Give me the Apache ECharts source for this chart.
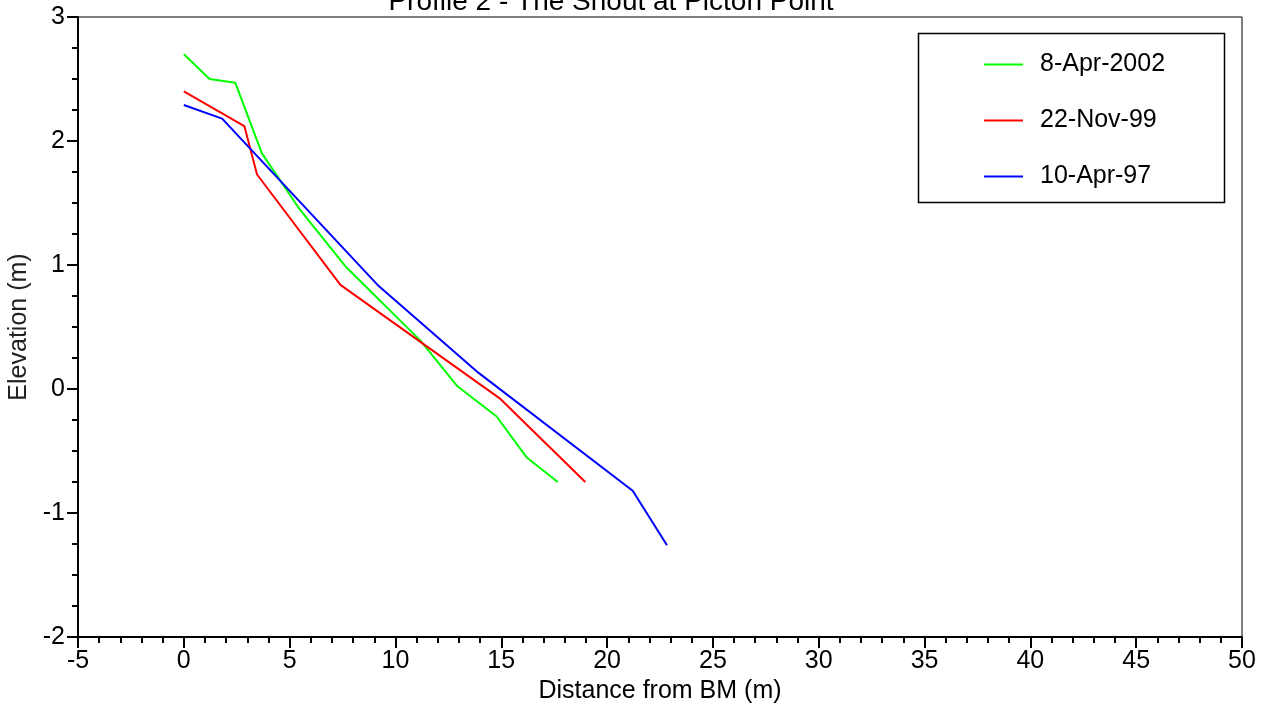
<!DOCTYPE html>
<html>
<head>
<meta charset="utf-8">
<script src="https://cdn.jsdelivr.net/npm/echarts@6/dist/echarts.min.js"></script>
<style>
html,body{margin:0;padding:0;background:#fff;}
#c{width:1275px;height:719px;}
</style>
</head>
<body>
<div id="c"></div>
<script>
var seriesNames = ['8-Apr-2002', '22-Nov-99', '10-Apr-97'];
var seriesColors = ['#00ff00', '#ff0000', '#0000ff'];
var apr2002 = [[0, 2.70], [1.22, 2.50], [2.43, 2.47], [3.69, 1.90], [5.47, 1.45], [7.63, 0.99], [11.18, 0.39], [12.94, 0.02], [14.77, -0.22], [16.19, -0.55], [17.67, -0.75]];
var nov99 = [[0, 2.40], [2.86, 2.12], [3.46, 1.73], [7.40, 0.84], [14.96, -0.08], [18.97, -0.75]];
var apr97 = [[0, 2.29], [1.81, 2.18], [9.21, 0.83], [13.93, 0.13], [21.21, -0.82], [22.83, -1.26]];
var seriesData = [apr2002, nov99, apr97];
var titleText = 'Profile 2 - The Shout at Picton Point';
var xName = 'Distance from BM (m)';
var yName = 'Elevation (m)';

var FONT = '"Liberation Sans", Arial, sans-serif';
var chart = echarts.init(document.getElementById('c'));
chart.setOption({
  animation: false,
  backgroundColor: '#fff',
  title: {
    text: titleText,
    left: 606, textAlign: 'center', top: -17,
    textStyle: {fontFamily: FONT, fontSize: 28, fontWeight: 'normal', color: '#000'}
  },
  grid: {left: 78, right: 33, top: 17, bottom: 82, show: true, borderColor: '#000', borderWidth: 1, backgroundColor: 'transparent', containLabel: false, outerBoundsMode: 'none'},
  legend: {
    orient: 'vertical',
    left: 979, top: 47,
    itemWidth: 39, itemHeight: 2,
    itemGap: 31,
    icon: 'rect',
    textStyle: {fontFamily: FONT, fontSize: 25, color: '#000', padding: [0, 0, 0, 12]},
    data: seriesNames
  },
  graphic: [{
    type: 'rect', shape: {x: 918.5, y: 33.5, width: 306, height: 169},
    style: {fill: 'none', stroke: '#000', lineWidth: 1.5}, z: 100
  }],
  xAxis: {
    type: 'value', min: -5, max: 50, interval: 5,
    name: xName, nameLocation: 'middle', nameGap: 30,
    nameTextStyle: {fontFamily: FONT, fontSize: 25, color: '#000'},
    axisLine: {show: true, onZero: false, lineStyle: {color: '#000', width: 2}},
    axisTick: {show: true, length: 11, lineStyle: {color: '#000', width: 2}},
    minorTick: {show: true, splitNumber: 5, length: 6, lineStyle: {color: '#000', width: 2}},
    axisLabel: {fontFamily: FONT, fontSize: 25, color: '#000', margin: 12},
    splitLine: {show: false}
  },
  yAxis: {
    type: 'value', min: -2, max: 3, interval: 1,
    name: yName, nameLocation: 'middle', nameGap: 44,
    nameTextStyle: {fontFamily: FONT, fontSize: 25, color: '#222'},
    axisLine: {show: true, onZero: false, lineStyle: {color: '#000', width: 2}},
    axisTick: {show: true, length: 11, lineStyle: {color: '#000', width: 2}},
    minorTick: {show: true, splitNumber: 4, length: 6, lineStyle: {color: '#000', width: 2}},
    axisLabel: {fontFamily: FONT, fontSize: 25, color: '#000', margin: 13},
    splitLine: {show: false}
  },
  series: seriesNames.map(function (n, i) {
    return {
      name: n, type: 'line', data: seriesData[i], symbol: 'none',
      itemStyle: {color: seriesColors[i]},
      lineStyle: {color: seriesColors[i], width: 2}
    };
  })
});
</script>
</body>
</html>
